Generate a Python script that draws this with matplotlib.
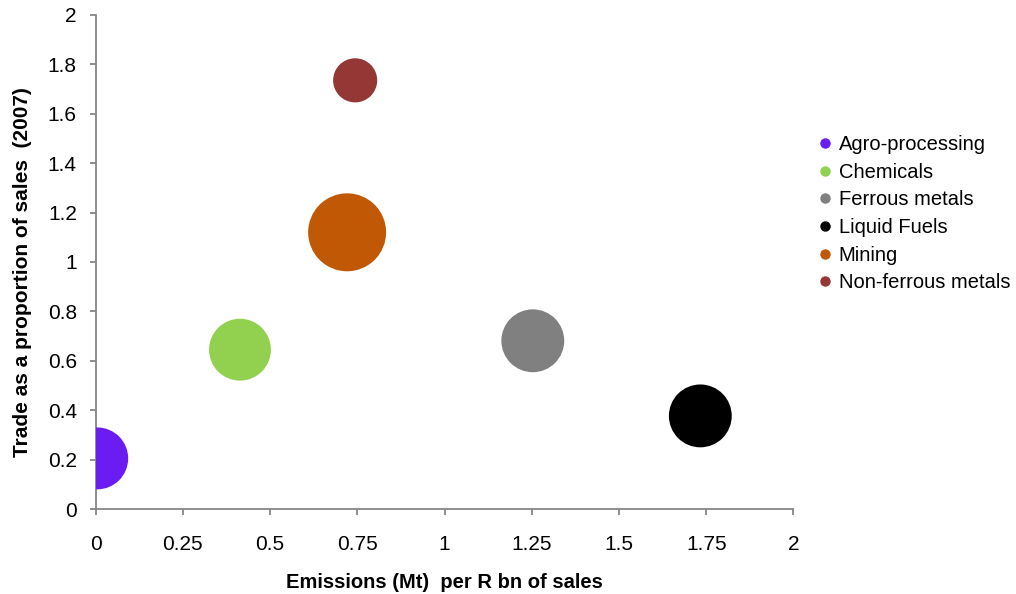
import matplotlib
matplotlib.use("Agg")
import matplotlib.pyplot as plt
from matplotlib.lines import Line2D

# données
sectors = ["Agro-processing", "Chemicals", "Ferrous metals", "Liquid Fuels", "Mining", "Non-ferrous metals"]
emissions = [0.005, 0.414, 1.253, 1.733, 0.721, 0.744]
trade = [0.205, 0.645, 0.681, 0.377, 1.12, 1.735]
bubble_size = [63, 63, 65, 65, 100, 32]
colors = ["#6A1CF2", "#92D050", "#808080", "#000000", "#C15805", "#953735"]

x_ticks = [0, 0.25, 0.5, 0.75, 1, 1.25, 1.5, 1.75, 2]
x_tick_labels = ["0", "0.25", "0.5", "0.75", "1", "1.25", "1.5", "1.75", "2"]
y_ticks = [0, 0.2, 0.4, 0.6, 0.8, 1, 1.2, 1.4, 1.6, 1.8, 2]
y_tick_labels = ["0", "0.2", "0.4", "0.6", "0.8", "1", "1.2", "1.4", "1.6", "1.8", "2"]

plt.rcParams["font.family"] = ["Liberation Sans", "DejaVu Sans"]

fig = plt.figure(figsize=(10.16, 5.94), dpi=100)
ax = fig.add_axes([0.094, 0.143, 0.687, 0.832])

for i in range(len(sectors)):
    ax.scatter(emissions[i], trade[i], s=bubble_size[i] * 31.5, color=colors[i],
               edgecolors="none", zorder=3)

ax.set_xlim(0, 2)
ax.set_ylim(0, 2)
ax.set_xticks(x_ticks)
ax.set_xticklabels(x_tick_labels)
ax.set_yticks(y_ticks)
ax.set_yticklabels(y_tick_labels)

for side in ["top", "right"]:
    ax.spines[side].set_visible(False)
for side in ["left", "bottom"]:
    ax.spines[side].set_color("#868686")
    ax.spines[side].set_linewidth(1.3)

ax.tick_params(axis="both", colors="#868686", width=1.3, length=4.5, labelsize=15, labelcolor="black")
ax.tick_params(axis="x", pad=14)
ax.tick_params(axis="y", pad=9)

ax.set_xlabel("Emissions (Mt)  per R bn of sales", fontsize=14.5, fontweight="bold")
ax.xaxis.set_label_coords(0.5, -0.13)
ax.set_ylabel("Trade as a proportion of sales  (2007)", fontsize=15, fontweight="bold")
ax.yaxis.set_label_coords(-0.091, 0.479)

handles = [Line2D([], [], marker="o", linestyle="none", markersize=7.5,
                  markerfacecolor=c, markeredgecolor="none") for c in colors]
fig.legend(handles, sectors, loc="upper left", bbox_to_anchor=(818 / 1016, 1 - 135 / 594),
           frameon=False, fontsize=14.5, handlelength=0.72, handletextpad=0.3,
           labelspacing=0.43, borderpad=0, borderaxespad=0)

plt.savefig("out.png", dpi=100)
